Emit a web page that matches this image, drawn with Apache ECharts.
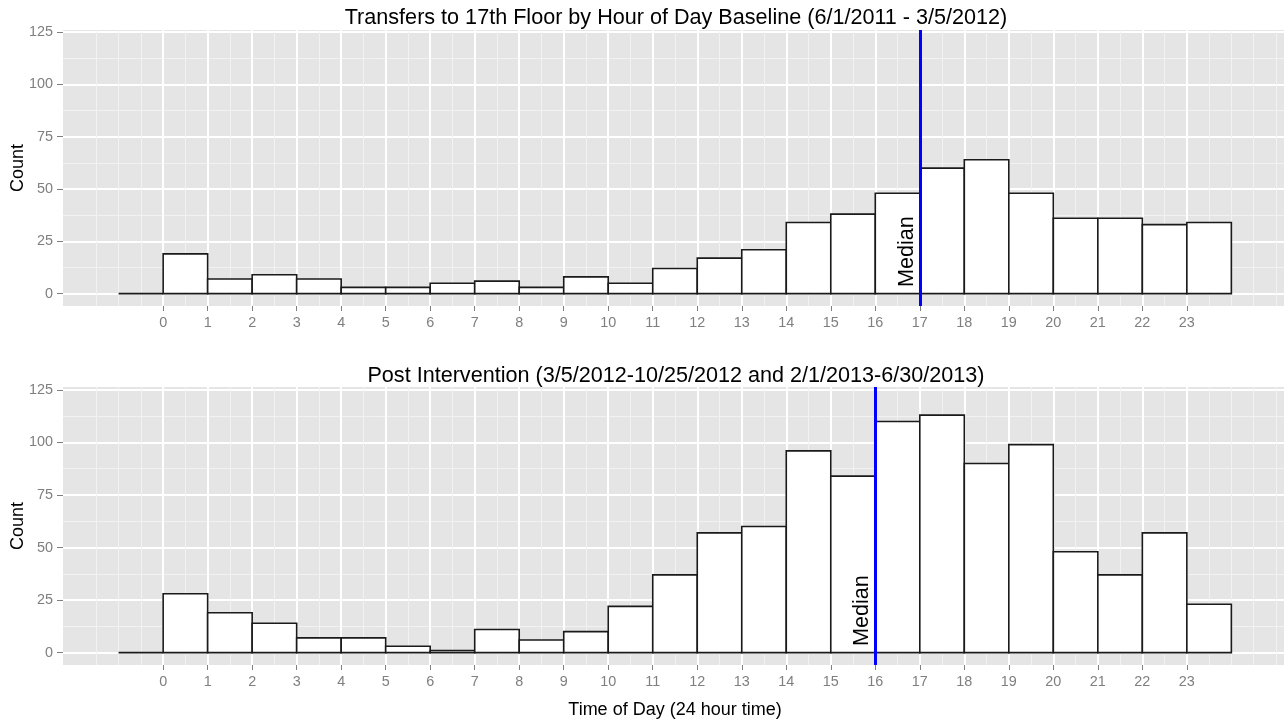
<!DOCTYPE html>
<html>
<head>
<meta charset="utf-8">
<script src="https://cdn.jsdelivr.net/npm/echarts@6/dist/echarts.min.js"></script>
<style>
  html, body { margin: 0; padding: 0; background: #fff; }
  #chart { width: 1284px; height: 723px; }
</style>
</head>
<body>
<div id="chart"></div>
<script>
// start hour of each 1-hour bin (-1 is the empty bin drawn as a flat line)
const hours = [-1, 0, 1, 2, 3, 4, 5, 6, 7, 8, 9, 10, 11, 12, 13, 14, 15, 16, 17, 18, 19, 20, 21, 22, 23];
const baselineCounts = [0, 19, 7, 9, 7, 3, 3, 5, 6, 3, 8, 5, 12, 17, 21, 34, 38, 48, 60, 64, 48, 36, 36, 33, 34];
const postCounts = [0, 28, 19, 14, 7, 7, 3, 1, 11, 6, 10, 22, 37, 57, 60, 96, 84, 110, 113, 90, 99, 48, 37, 57, 23];
const medianBaseline = 17;
const medianPost = 16;

const xTicks = [0, 1, 2, 3, 4, 5, 6, 7, 8, 9, 10, 11, 12, 13, 14, 15, 16, 17, 18, 19, 20, 21, 22, 23];
const yTicks = [0, 25, 50, 75, 100, 125];
const xMinor = [-1.5, -1, -0.5].concat(xTicks.map(v => v + 0.5), [24, 24.5, 25]);
const yMinor = [12.5, 37.5, 62.5, 87.5, 112.5];

const titles = [
  "Transfers to 17th Floor by Hour of Day Baseline (6/1/2011 - 3/5/2012)",
  "Post Intervention (3/5/2012-10/25/2012 and 2/1/2013-6/30/2013)"
];

const FONT = "'Liberation Sans', Arial, sans-serif";
const chart = echarts.init(document.getElementById("chart"));

function xAxes(grid, withName) {
  return [
    {
      type: "value", gridIndex: grid, min: -2.25, max: 25.25,
      axisLine: { show: false, onZero: false },
      axisTick: { show: true, length: 5, customValues: xTicks, lineStyle: { color: "#7f7f7f", width: 1 } },
      axisLabel: { customValues: xTicks, margin: 10, color: "#7f7f7f", fontSize: 14.4, fontFamily: FONT },
      splitLine: { show: true, lineStyle: { color: "#ffffff", width: 2 } },
      name: withName ? "Time of Day (24 hour time)" : "",
      nameLocation: "middle", nameGap: 36, nameMoveOverlap: false,
      nameTextStyle: { color: "#000", fontSize: 18, fontFamily: FONT }
    },
    {
      type: "value", gridIndex: grid, min: -2.25, max: 25.25,
      axisLine: { show: false, onZero: false },
      axisTick: { show: false, customValues: xMinor },
      axisLabel: { show: false, customValues: xMinor },
      splitLine: { show: true, lineStyle: { color: "#f2f2f2", width: 1 } }
    }
  ];
}

function yAxes(grid, max) {
  return [
    {
      type: "value", gridIndex: grid, min: -5.9, max: max,
      axisLine: { show: false, onZero: false },
      axisTick: { show: true, length: 6, customValues: yTicks, lineStyle: { color: "#7f7f7f", width: 1 } },
      axisLabel: { customValues: yTicks, margin: 10, color: "#7f7f7f", fontSize: 14.4, fontFamily: FONT },
      splitLine: { show: true, lineStyle: { color: "#ffffff", width: 2 } },
      name: "Count", nameLocation: "middle", nameGap: 36, nameMoveOverlap: false,
      nameTextStyle: { color: "#000", fontSize: 18, fontFamily: FONT }
    },
    {
      type: "value", gridIndex: grid, min: -5.9, max: max,
      axisLine: { show: false, onZero: false },
      axisTick: { show: false, customValues: yMinor },
      axisLabel: { show: false, customValues: yMinor },
      splitLine: { show: true, lineStyle: { color: "#f2f2f2", width: 1 } }
    }
  ];
}

function renderBin(params, api) {
  const h = api.value(0);
  const c = api.value(1);
  const p0 = api.coord([h, 0]);
  const p1 = api.coord([h + 1, c]);
  return {
    type: "rect",
    shape: { x: p0[0], y: p1[1], width: p1[0] - p0[0], height: p0[1] - p1[1] },
    style: { fill: "#ffffff", stroke: "#1a1a1a", lineWidth: 1.6 }
  };
}

function histSeries(counts, axisIdx, median) {
  return {
    type: "custom",
    xAxisIndex: axisIdx, yAxisIndex: axisIdx,
    renderItem: renderBin,
    data: hours.map((h, i) => [h, counts[i]]),
    z: 3,
    silent: true,
    markLine: {
      silent: true,
      symbol: "none",
      animation: false,
      lineStyle: { color: "#0000ff", width: 3, type: "solid" },
      label: {
        show: true,
        formatter: "Median",
        position: "insideStartTop",
        distance: [19, 2],
        color: "#000",
        fontSize: 21.6,
        fontFamily: FONT
      },
      data: [{ xAxis: median }]
    }
  };
}

const option = {
  backgroundColor: "#ffffff",
  animation: false,
  title: [
    { text: titles[0], left: 676, top: 7, padding: 0, textAlign: "center",
      textStyle: { color: "#000", fontSize: 21.6, fontWeight: "normal", fontFamily: FONT } },
    { text: titles[1], left: 676, top: 365, padding: 0, textAlign: "center",
      textStyle: { color: "#000", fontSize: 21.6, fontWeight: "normal", fontFamily: FONT } }
  ],
  grid: [
    { left: 63, top: 30, width: 1224, height: 276, show: true, backgroundColor: "#e5e5e5", borderWidth: 0,
      containLabel: false, outerBoundsMode: "none" },
    { left: 63, top: 387, width: 1224, height: 278, show: true, backgroundColor: "#e5e5e5", borderWidth: 0,
      containLabel: false, outerBoundsMode: "none" }
  ],
  xAxis: xAxes(0, false).concat(xAxes(1, true)),
  yAxis: yAxes(0, 126).concat(yAxes(1, 126.4)),
  series: [
    histSeries(baselineCounts, 0, medianBaseline),
    histSeries(postCounts, 2, medianPost)
  ]
};

chart.setOption(option);
window.addEventListener("resize", () => chart.resize());
</script>
</body>
</html>
